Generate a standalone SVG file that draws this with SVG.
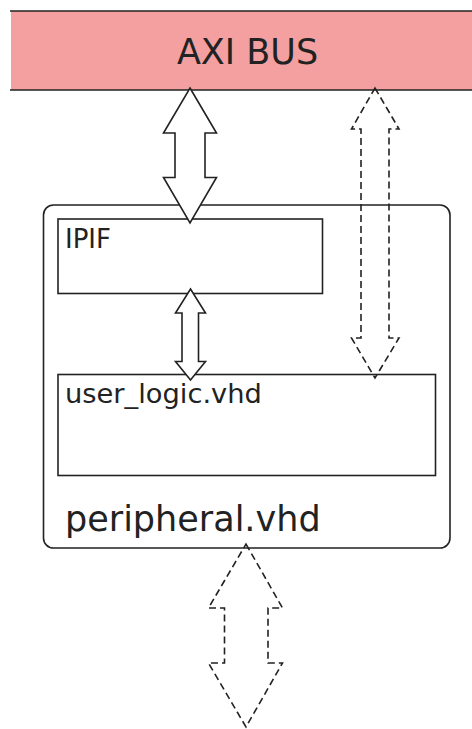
<svg xmlns="http://www.w3.org/2000/svg" width="472" height="729" viewBox="0 0 472 729">
<style>
.ln{stroke:#222;stroke-width:1.6;fill:none}
.box{stroke:#222;stroke-width:1.6;fill:#fff}
.ar{stroke:#222;stroke-width:1.6;fill:#fff;stroke-linejoin:miter}
.da{stroke:#222;stroke-width:1.6;fill:none;stroke-dasharray:7 4}
text{font-family:"DejaVu Sans",sans-serif;fill:#222}
</style>
<rect width="472" height="729" fill="#fff"/>
<g id="axi-bus">
<rect x="11" y="11" width="462" height="79" fill="#f4a0a0"/>
<line class="ln" x1="10" y1="11" x2="472" y2="11"/>
<line class="ln" x1="10" y1="90" x2="472" y2="90"/>
<text x="247.5" y="64" font-size="35" text-anchor="middle">AXI BUS</text>
</g>
<g id="peripheral">
<rect class="box" x="43.5" y="205" width="406.5" height="343" rx="10"/>
<text x="65" y="531" font-size="35">peripheral.vhd</text>
</g>
<g id="ipif">
<rect class="box" x="58" y="219" width="264.5" height="74.5"/>
<text x="65" y="248" font-size="26">IPIF</text>
</g>
<g id="user-logic">
<rect class="box" x="58" y="374.5" width="377.5" height="101"/>
<text x="65" y="403" font-size="27.3">user_logic.vhd</text>
</g>
<g id="connectors">
<path class="ar" d="M190 88 L216.5 133 L205 133 L205 177.5 L216.5 177.5 L190 223 L163.5 177.5 L175 177.5 L175 133 L163.5 133 Z"/>
<path class="ar" d="M190.5 289 L205.5 313 L198.5 313 L198.5 361.5 L205.5 361.5 L190.5 380 L175.5 361.5 L182 361.5 L182 313 L175.5 313 Z"/>
<path class="da" d="M375 88 L399 129 L389 129 L389 338 L399 338 L375 378 L351.5 338 L361 338 L361 129 L351.5 129 Z"/>
<path class="da" d="M246 544 L282.5 608 L268 608 L268 663 L282.5 663 L246 727 L208.5 663 L224.5 663 L224.5 608 L208.5 608 Z"/>
</g>
</svg>
